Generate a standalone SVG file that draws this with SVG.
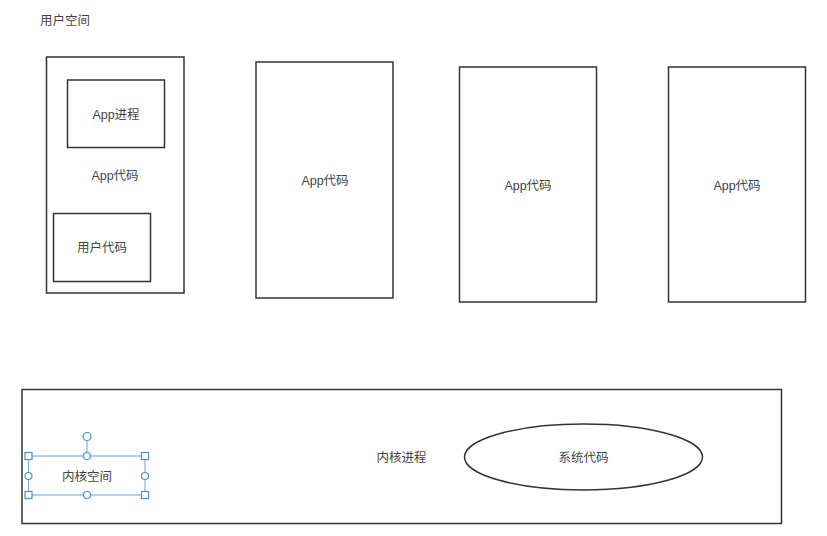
<svg xmlns="http://www.w3.org/2000/svg" width="827" height="536" viewBox="0 0 827 536">
<style>
.box{fill:#fff;stroke:#333;stroke-width:1.5}
.t{font-family:"Liberation Sans","Noto Sans CJK SC",sans-serif;font-size:12.5px;fill:#444;text-anchor:middle;dominant-baseline:central}
.sel{fill:none;stroke:#7ab3e8;stroke-width:1.2}
.h{fill:#fff;stroke:#4a90d9;stroke-width:1.2}
</style>
<rect width="827" height="536" fill="#fff"/>
<text class="t" x="65" y="20.5">用户空间</text>
<g id="app1">
<rect class="box" x="46.5" y="57" width="137.5" height="236"/>
<text class="t" x="115" y="176">App代码</text>
</g>
<g id="app-process">
<rect class="box" x="67.5" y="80" width="97" height="67.5"/>
<text class="t" x="116" y="115">App进程</text>
</g>
<g id="user-code">
<rect class="box" x="53.5" y="213.5" width="97" height="68"/>
<text class="t" x="102" y="248">用户代码</text>
</g>
<g id="app2">
<rect class="box" x="256" y="62" width="137" height="236"/>
<text class="t" x="325" y="181">App代码</text>
</g>
<g id="app3">
<rect class="box" x="459.5" y="67" width="137" height="235"/>
<text class="t" x="528" y="186">App代码</text>
</g>
<g id="app4">
<rect class="box" x="668.5" y="67" width="137" height="235"/>
<text class="t" x="737" y="186">App代码</text>
</g>
<g id="kernel">
<rect class="box" x="22" y="389.5" width="759.5" height="134"/>
<text class="t" x="401.5" y="458">内核进程</text>
</g>
<g id="system-code">
<ellipse class="box" cx="583.5" cy="457" rx="119" ry="33"/>
<text class="t" x="583.5" y="458">系统代码</text>
</g>
<g id="kernel-space">
<rect class="sel" x="28.5" y="456" width="116.5" height="39"/>
<line class="sel" x1="87" y1="440" x2="87" y2="456" stroke-width="1.5"/>
<text class="t" x="87" y="476.5">内核空间</text>
<circle class="h" cx="87" cy="436.5" r="4"/>
<rect class="h" x="25" y="452.5" width="7" height="7"/>
<rect class="h" x="141.5" y="452.5" width="7" height="7"/>
<rect class="h" x="25" y="491.5" width="7" height="7"/>
<rect class="h" x="141.5" y="491.5" width="7" height="7"/>
<circle class="h" cx="87" cy="456" r="3.5"/>
<circle class="h" cx="87" cy="495" r="3.5"/>
<circle class="h" cx="28.5" cy="476" r="3.5"/>
<circle class="h" cx="145" cy="476" r="3.5"/>
</g>
<g id="connectors"/>
</svg>
